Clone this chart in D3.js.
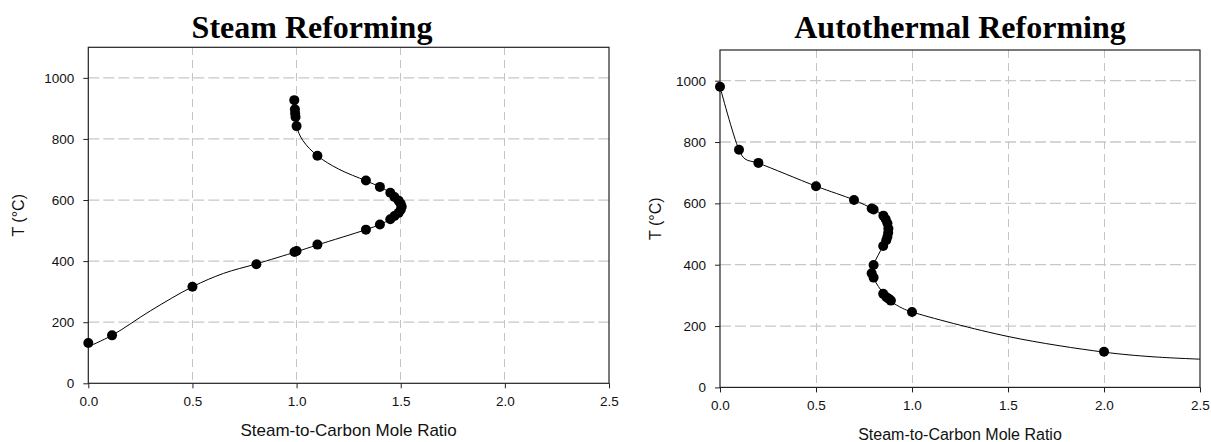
<!DOCTYPE html>
<html>
<head>
<meta charset="utf-8">
<script src="https://cdn.jsdelivr.net/npm/d3@7"></script>
<style>
  html, body { margin: 0; padding: 0; background: #fff; }
  svg { display: block; }
</style>
</head>
<body>
<svg id="chart" width="1211" height="442"></svg>
<script>
// ---------- data ----------
const xTicks = [0.0, 0.5, 1.0, 1.5, 2.0, 2.5];
const yTicks = [0, 200, 400, 600, 800, 1000];

const steamTitle = "Steam Reforming";
const steamRatio = [0, 0.114, 0.5, 0.807, 0.99, 1.0, 1.1, 1.333, 1.4, 1.45, 1.47, 1.49, 1.5, 1.505, 1.5, 1.49, 1.47, 1.45, 1.4, 1.333, 1.1, 1.0, 0.995, 0.993, 0.992, 0.989];
const steamTemp  = [132, 157, 316, 390, 430, 433, 454, 503, 520, 537, 548, 558, 568, 578, 588, 598, 610, 624, 643, 664, 745, 842, 872, 884, 897, 927];
// fitted curve
const steamCurveRatio = [0, 0.114, 0.3, 0.5, 0.65, 0.807, 1.0, 1.1, 1.333, 1.4, 1.45, 1.49, 1.505, 1.49, 1.45, 1.4, 1.333, 1.2, 1.1, 1.03, 1.0, 0.99];
const steamCurveTemp  = [120, 157, 238, 316, 360, 391, 431, 453, 503, 520, 537, 558, 578, 600, 624, 643, 663, 702, 745, 795, 842, 925];

const autoTitle = "Autothermal Reforming";
const autoRatio = [0, 0.099, 0.2, 0.5, 0.698, 0.79, 0.8, 0.851, 0.863, 0.872, 0.877, 0.876, 0.872, 0.866, 0.85, 0.8, 0.79, 0.8, 0.85, 0.867, 0.879, 0.89, 1.0, 2.0];
const autoTemp  = [980, 775, 732, 656, 611, 583, 580, 560, 548, 535, 518, 504, 491, 480, 461, 399, 372, 358, 305, 294, 289, 283, 246, 116];
const autoCurveRatio = [0, 0.099, 0.13, 0.2, 0.5, 0.698, 0.8, 0.855, 0.88, 0.878, 0.85, 0.8, 0.79, 0.8, 0.855, 0.89, 0.95, 1.0, 1.5, 2.0, 2.25, 2.5];
const autoCurveTemp  = [980, 775, 745, 731, 656, 611, 580, 558, 525, 490, 461, 400, 372, 355, 303, 281, 258, 246, 166, 115, 100, 92];

const xLabel = "Steam-to-Carbon Mole Ratio";
const yLabel = "T (°C)";

// ---------- drawing ----------
const svg = d3.select("#chart");

function panel(cfg) {
  const x = d3.scaleLinear().domain([0, 2.5]).range([cfg.left, cfg.right]);
  const y = d3.scaleLinear().domain([0, 1100]).range([cfg.bottom, cfg.top]);
  const g = svg.append("g");

  // grid
  g.append("g").selectAll("line").data(xTicks.filter(d => d > 0 && d < 2.5)).join("line")
    .attr("x1", d => x(d)).attr("x2", d => x(d))
    .attr("y1", cfg.top).attr("y2", cfg.bottom)
    .attr("stroke", "#c4c4c4").attr("stroke-width", 1)
    .attr("stroke-dasharray", "8,5").attr("shape-rendering", "crispEdges");
  g.append("g").selectAll("line").data(yTicks.filter(d => d > 0)).join("line")
    .attr("x1", cfg.left).attr("x2", cfg.right)
    .attr("y1", d => y(d)).attr("y2", d => y(d))
    .attr("stroke", "#c8c8c8").attr("stroke-width", 1.3)
    .attr("stroke-dasharray", "11,4");

  // frame
  g.append("rect")
    .attr("x", cfg.left).attr("y", cfg.top)
    .attr("width", cfg.right - cfg.left).attr("height", cfg.bottom - cfg.top)
    .attr("fill", "none").attr("stroke", "#222").attr("stroke-width", 1.2);

  // fitted curve
  const pts = cfg.curveX.map((d, i) => [d, cfg.curveY[i]]);
  const line = d3.line().x(d => x(d[0])).y(d => y(d[1])).curve(d3.curveCatmullRom.alpha(0.5));
  g.append("path").attr("d", line(pts))
    .attr("fill", "none").attr("stroke", "#000").attr("stroke-width", 1);

  // markers
  g.append("g").selectAll("circle").data(cfg.px.map((d, i) => [d, cfg.py[i]])).join("circle")
    .attr("cx", d => x(d[0])).attr("cy", d => y(d[1])).attr("r", 5).attr("fill", "#000");

  // axes
  const ax = g.append("g").attr("transform", `translate(0,${cfg.bottom})`)
    .call(d3.axisBottom(x).tickValues(xTicks).tickFormat(d3.format(".1f")).tickSize(5).tickPadding(8));
  const ay = g.append("g").attr("transform", `translate(${cfg.left},0)`)
    .call(d3.axisLeft(y).tickValues(yTicks).tickFormat(d3.format("d")).tickSize(5).tickPadding(9));
  [ax, ay].forEach(a => {
    a.select(".domain").remove();
    a.selectAll(".tick line").attr("stroke", "#222");
    a.selectAll(".tick text").attr("fill", "#111")
      .style("font-family", "'Liberation Sans', Arial, sans-serif").style("font-size", cfg.tickFs + "px");
  });

  // titles
  g.append("text").attr("x", cfg.titleX).attr("y", 37.5).attr("text-anchor", "middle")
    .style("font-family", "'Liberation Serif', 'Times New Roman', serif")
    .style("font-weight", "bold").style("font-size", "32px").attr("fill", "#000")
    .text(cfg.title);
  g.append("text").attr("x", (cfg.left + cfg.right) / 2).attr("y", cfg.xLabelY).attr("text-anchor", "middle")
    .style("font-family", "'Liberation Sans', Arial, sans-serif").style("font-size", cfg.labelFs + "px").attr("fill", "#111")
    .text(xLabel);
  g.append("text")
    .attr("transform", `translate(${cfg.yLabelX},${(cfg.top + cfg.bottom) / 2}) rotate(-90)`)
    .attr("text-anchor", "middle").attr("dominant-baseline", "central")
    .style("font-family", "'Liberation Sans', Arial, sans-serif").style("font-size", "16px").attr("fill", "#111")
    .text(yLabel);
}

panel({
  left: 88.3, right: 609, top: 47.3, bottom: 383.3,
  px: steamRatio, py: steamTemp, curveX: steamCurveRatio, curveY: steamCurveTemp,
  title: steamTitle, titleX: 312, xLabelY: 436, yLabelX: 18.5, tickFs: 13.5, labelFs: 17
});
panel({
  left: 720, right: 1200, top: 50, bottom: 387.4,
  px: autoRatio, py: autoTemp, curveX: autoCurveRatio, curveY: autoCurveTemp,
  title: autoTitle, titleX: 960, xLabelY: 440, yLabelX: 655, tickFs: 13.5, labelFs: 16
});
</script>
</body>
</html>
